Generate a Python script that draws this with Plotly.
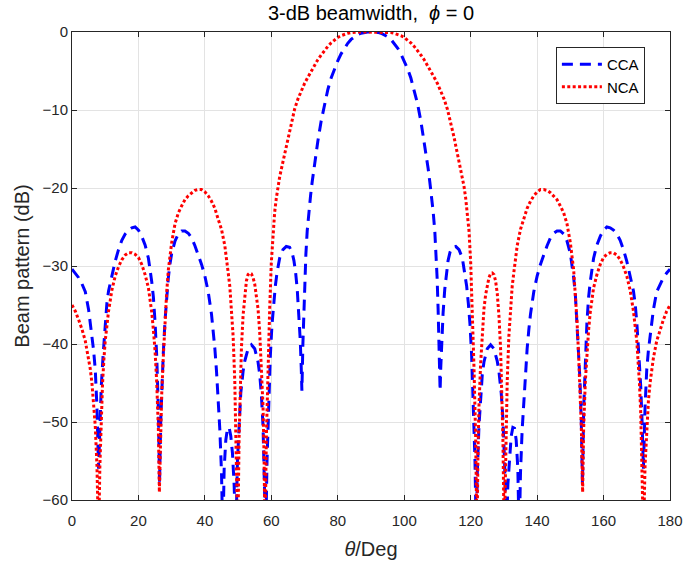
import plotly.graph_objects as go

# ---- data (theta in degrees, beam pattern in dB) ----
theta_cca = [0, 1, 2, 3, 4, 5, 6, 6.5, 7, 7.5,
             8, 8.4, 8.8, 9.4, 10, 10.5, 11, 12, 13, 14,
             15, 16, 17, 18, 19, 20, 21, 22, 23, 24,
             24.5, 25, 25.5, 26, 26.35, 26.7, 27.1, 27.5, 28, 28.5,
             29, 29.5, 30, 31, 32, 33, 34, 35, 36, 37,
             38, 39, 40, 41, 42, 42.5, 43, 43.5, 44, 44.5,
             45, 45.4, 45.8, 46.3, 46.8, 47.3, 47.8, 48.3, 48.8, 49.3,
             49.8, 50.3, 50.8, 51.5, 52, 53, 54, 55, 56, 56.5,
             57, 57.5, 58, 58.3, 58.7, 59.2, 59.7, 60.2, 60.7, 61.2,
             61.7, 62.5, 63.5, 64.5, 65.5, 66.2, 66.8, 67.3, 67.8, 68.3,
             68.7, 69, 69.2, 69.5, 69.8, 70.1, 70.4, 70.8, 71.3, 71.8,
             72.3, 72.8, 73.5, 74, 75, 76, 77, 78, 79, 80,
             81, 82, 83, 84, 85, 86, 87, 88, 89, 90,
             91, 92, 93, 94, 95, 96, 97, 98, 99, 100,
             101, 102, 103, 104, 105, 106, 106.5, 107.2, 107.7, 108.2,
             108.7, 109.2, 109.6, 109.9, 110.2, 110.5, 110.8, 111, 111.3, 111.7,
             112.2, 112.7, 113.2, 113.8, 114.5, 115.5, 116.5, 117.5, 118.3, 118.8,
             119.3, 119.8, 120.3, 120.8, 121.3, 121.7, 122, 122.5, 123, 123.5,
             124, 125, 126, 127, 128, 128.5, 129.2, 129.7, 130.2, 130.7,
             131.2, 131.7, 132.2, 132.7, 133.2, 133.7, 134.2, 134.6, 135, 135.5,
             136, 136.5, 137, 137.5, 138, 139, 140, 141, 142, 143,
             144, 145, 146, 147, 148, 149, 150, 150.5, 151, 151.5,
             152, 152.5, 152.9, 153.3, 153.65, 154, 154.5, 155, 155.5, 156,
             157, 158, 159, 160, 161, 162, 163, 164, 165, 166,
             167, 168, 169, 169.5, 170, 170.6, 171.2, 171.6, 172, 172.5,
             173, 173.5, 174, 175, 176, 177, 178, 179, 180]

cca_db = [-30.4, -30.9, -31.5, -32.3, -33.3, -35.6, -38.8, -40.8, -43.3, -48,
          -56, -50, -45.5, -41.2, -37.2, -34.8, -33.2, -31.1, -29.4, -27.9,
          -26.7, -25.9, -25.4, -25.1, -25.0, -25.4, -26.2, -27.3, -29.0, -32.0,
          -34.0, -37.2, -41.5, -48.5, -58, -50, -44.6, -41, -37, -33.6,
          -31.5, -29.7, -28.4, -26.8, -25.9, -25.5, -25.5, -25.8, -26.4, -27.4,
          -28.5, -29.8, -31.3, -33.3, -36.2, -38.2, -40.6, -43.5, -47, -51,
          -56.5, -65, -56, -52.3, -50.8, -50.7, -51.8, -54, -58, -65,
          -55, -49.5, -46.3, -43.5, -42.2, -40.6, -40.1, -40.6, -42.3, -43.9,
          -46.5, -50.5, -56.5, -65, -55, -47.5, -41.5, -37.5, -34.8, -32.6,
          -30.9, -29, -27.9, -27.5, -27.6, -28.2, -29.3, -30.8, -33, -36,
          -39.5, -43, -46, -40, -35.5, -31.5, -28.5, -25.5, -23, -21,
          -19.2, -17.5, -15.5, -14.0, -11.4, -9.2, -7.4, -5.9, -4.7, -3.7,
          -2.8, -2.05, -1.45, -0.95, -0.6, -0.33, -0.15, -0.05, -0.01, 0,
          -0.01, -0.05, -0.15, -0.33, -0.6, -0.95, -1.45, -2.05, -2.8, -3.7,
          -4.7, -5.9, -7.4, -9.2, -11.4, -14.0, -15.5, -17.5, -19.2, -21,
          -23, -25.5, -28.5, -31.5, -35.5, -40, -46, -43, -39.5, -36,
          -33, -30.8, -29.3, -28.2, -27.6, -27.5, -27.9, -29, -30.9, -32.6,
          -34.8, -37.5, -41.5, -47.5, -55, -65, -56.5, -50.5, -46.5, -43.9,
          -42.3, -40.6, -40.1, -40.6, -42.2, -43.5, -46.3, -49.5, -55, -65,
          -58, -54, -51.8, -50.7, -50.8, -52.3, -56, -65, -56.5, -51,
          -47, -43.5, -40.6, -38.2, -36.2, -33.3, -31.3, -29.8, -28.5, -27.4,
          -26.4, -25.8, -25.5, -25.5, -25.9, -26.8, -28.4, -29.7, -31.5, -33.6,
          -37, -41, -44.6, -50, -58, -48.5, -41.5, -37.2, -34.0, -32.0,
          -29.0, -27.3, -26.2, -25.4, -25.0, -25.1, -25.4, -25.9, -26.7, -27.9,
          -29.4, -31.1, -33.2, -34.8, -37.2, -41.2, -45.5, -50, -56, -48,
          -43.3, -40.8, -38.8, -35.6, -33.3, -32.3, -31.5, -30.9, -30.4]

theta_nca = [0, 1, 2, 3, 4, 5, 5.5, 6, 6.5, 7,
             7.5, 8, 8.4, 8.8, 9.2, 9.6, 10, 11, 12, 13,
             14, 15, 16, 17, 18, 19, 20, 21, 22, 23,
             24, 24.5, 25, 25.5, 26, 26.3, 26.7, 27, 27.5, 28,
             28.5, 29, 30, 31, 32, 33, 34, 35, 36, 37,
             38, 39, 40, 41, 42, 43, 44, 45, 46, 46.5,
             47, 47.5, 48, 48.5, 49, 49.4, 49.9, 50.3, 50.6, 51,
             51.5, 52, 52.5, 53, 53.5, 54, 54.5, 55, 55.5, 56,
             56.5, 57, 57.5, 57.8, 58.1, 58.5, 59, 59.5, 60, 60.5,
             61, 61.5, 62, 62.5, 63, 64, 65, 66, 67, 68,
             69, 70, 71, 72, 73, 74, 75, 76, 77, 78,
             79, 80, 81, 82, 83, 84, 85, 86, 88, 90,
             92, 94, 95, 96, 97, 98, 99, 100, 101, 102,
             103, 104, 105, 106, 107, 108, 109, 110, 111, 112,
             113, 114, 115, 116, 117, 117.5, 118, 118.5, 119, 119.5,
             120, 120.5, 121, 121.5, 121.9, 122.2, 122.5, 123, 123.5, 124,
             124.5, 125, 125.5, 126, 126.5, 127, 127.5, 128, 128.5, 129,
             129.4, 129.7, 130.1, 130.6, 131, 131.5, 132, 132.5, 133, 133.5,
             134, 135, 136, 137, 138, 139, 140, 141, 142, 143,
             144, 145, 146, 147, 148, 149, 150, 151, 151.5, 152,
             152.5, 153, 153.3, 153.7, 154, 154.5, 155, 155.5, 156, 157,
             158, 159, 160, 161, 162, 163, 164, 165, 166, 167,
             168, 169, 170, 170.4, 170.8, 171.2, 171.6, 172, 172.5, 173,
             173.5, 174, 174.5, 175, 176, 177, 178, 179, 180]

nca_db = [-35.0, -35.8, -36.9, -38.1, -39.6, -41.8, -43.2, -45, -47.3, -50.5,
          -55.5, -65, -55.5, -49, -45, -42, -39.6, -35.8, -33.1, -31.3,
          -30.1, -29.2, -28.6, -28.3, -28.3, -28.5, -28.9, -29.8, -31.1, -32.8,
          -35.9, -38.2, -40.9, -44.9, -51, -59, -50.5, -46.5, -41.5, -37,
          -33.4, -30.5, -27, -24.6, -23.2, -22.3, -21.5, -21.0, -20.6, -20.3,
          -20.2, -20.2, -20.5, -21.0, -21.7, -22.6, -24.0, -25.3, -27.4, -28.8,
          -30.8, -32.6, -35.3, -39, -44.8, -51, -65, -52, -46, -40.5,
          -36.3, -33.5, -31.9, -31.1, -30.9, -31.0, -31.5, -32.3, -33.7, -35.5,
          -38.5, -42.5, -48, -54, -65, -52, -43, -35.5, -29.5, -25.5,
          -23.1, -21.3, -19.8, -18.6, -17.6, -15.6, -13.5, -11.6, -9.9, -8.6,
          -7.5, -6.6, -5.8, -5.0, -4.25, -3.55, -2.95, -2.35, -1.85, -1.4,
          -1.0, -0.7, -0.47, -0.3, -0.17, -0.08, -0.03, -0.01, 0, 0,
          0, -0.01, -0.03, -0.08, -0.17, -0.3, -0.47, -0.7, -1.0, -1.4,
          -1.85, -2.35, -2.95, -3.55, -4.25, -5.0, -5.8, -6.6, -7.5, -8.6,
          -9.9, -11.6, -13.5, -15.6, -17.6, -18.6, -19.8, -21.3, -23.1, -25.5,
          -29.5, -35.5, -43, -52, -65, -54, -48, -42.5, -38.5, -35.5,
          -33.7, -32.3, -31.5, -31.0, -30.9, -31.1, -31.9, -33.5, -36.3, -40.5,
          -46, -52, -65, -51, -44.8, -39, -35.3, -32.6, -30.8, -28.8,
          -27.4, -25.3, -24.0, -22.6, -21.7, -21.0, -20.5, -20.2, -20.2, -20.3,
          -20.6, -21.0, -21.5, -22.3, -23.2, -24.6, -27, -30.5, -33.4, -37,
          -41.5, -46.5, -50.5, -59, -51, -44.9, -40.9, -38.2, -35.9, -32.8,
          -31.1, -29.8, -28.9, -28.5, -28.3, -28.3, -28.6, -29.2, -30.1, -31.3,
          -33.1, -35.8, -39.6, -42, -45, -49, -55.5, -65, -55.5, -50.5,
          -47.3, -45, -43.2, -41.8, -39.6, -38.1, -36.9, -35.8, -35.0]

x_ticks = [0, 20, 40, 60, 80, 100, 120, 140, 160, 180]
y_ticks = [0, -10, -20, -30, -40, -50, -60]
x_ticktext = ["0", "20", "40", "60", "80", "100", "120", "140", "160", "180"]
y_ticktext = ["0", "\u221210", "\u221220", "\u221230", "\u221240", "\u221250", "\u221260"]

assert len(theta_cca) == len(cca_db), (len(theta_cca), len(cca_db))
assert len(theta_nca) == len(nca_db), (len(theta_nca), len(nca_db))

FONT = "Liberation Sans, Arial, Helvetica, sans-serif"
AX = "#262626"

fig = go.Figure()
fig.add_trace(go.Scatter(
    x=theta_cca, y=cca_db, mode="lines", name="CCA",
    line=dict(color="#0000ff", width=3, dash="11px,7px"),
))
fig.add_trace(go.Scatter(
    x=theta_nca, y=nca_db, mode="lines", name="NCA",
    line=dict(color="#ff0000", width=3, dash="3px,2.4px"),
))

axis_common = dict(
    showline=True, linecolor=AX, linewidth=1, mirror="ticks",
    ticks="inside", ticklen=5, tickcolor=AX, tickwidth=1,
    showgrid=True, gridcolor="#e3e3e3", gridwidth=1,
    zeroline=False, automargin=False,
    tickfont=dict(family=FONT, size=15, color=AX),
)

fig.update_xaxes(
    range=[0, 180], tickvals=x_ticks, ticktext=x_ticktext,
    ticklabelstandoff=7,
    title=dict(text="<i>θ</i>/Deg", font=dict(family=FONT, size=20, color=AX), standoff=13),
    **axis_common,
)
fig.update_yaxes(
    range=[-60, 0], tickvals=y_ticks, ticktext=y_ticktext,
    title=dict(text="Beam pattern (dB)", font=dict(family=FONT, size=20, color=AX), standoff=7),
    **axis_common,
)

fig.update_layout(
    width=685, height=563,
    margin=dict(l=72, r=15, t=32, b=63),
    paper_bgcolor="white", plot_bgcolor="white",
    title=dict(text="3-dB beamwidth,  <i>ϕ</i> = 0", x=0.5, xref="paper",
               y=1 - 13 / 563, yref="container", yanchor="middle",
               font=dict(family=FONT, size=20, color="#000000")),
    legend=dict(x=0.958, y=0.968, xanchor="right", yanchor="top",
                bgcolor="white", bordercolor=AX, borderwidth=1,
                font=dict(family=FONT, size=15, color="#000000"),
                tracegroupgap=0, itemwidth=40),
    showlegend=True,
)

fig.write_html("out.html", config={"displayModeBar": False},
               post_script="document.body.style.margin='0';document.body.style.overflow='hidden';")
